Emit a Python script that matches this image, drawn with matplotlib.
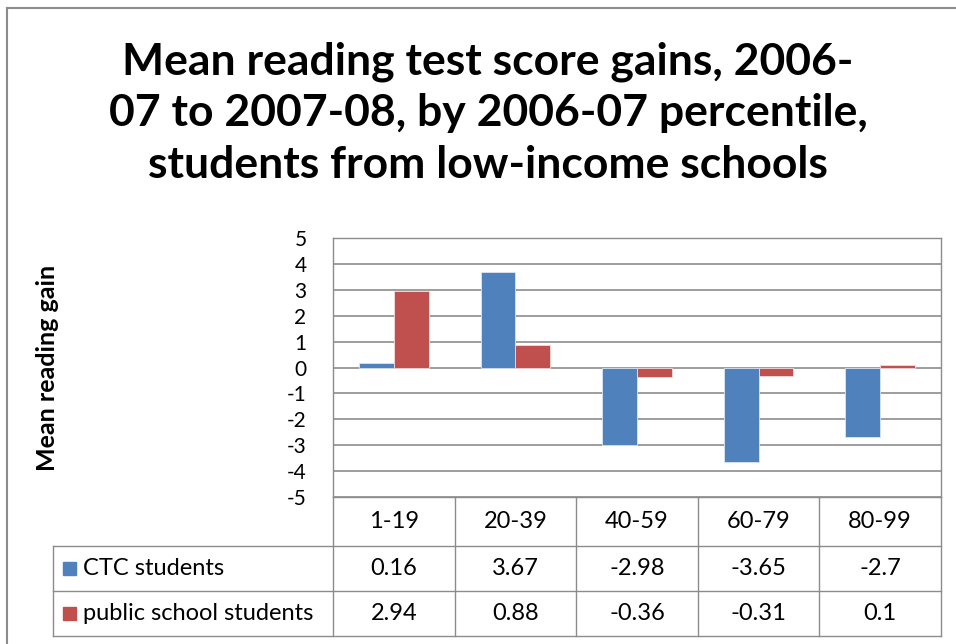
import matplotlib.pyplot as plt
from matplotlib.patches import Rectangle
from matplotlib.lines import Line2D
import numpy as np

# data
categories = ['1-19', '20-39', '40-59', '60-79', '80-99']
ctc_students = [0.16, 3.67, -2.98, -3.65, -2.7]
public_students = [2.94, 0.88, -0.36, -0.31, 0.1]
series_names = ['CTC students', 'public school students']
title = ('Mean reading test score gains, 2006-\n'
         '07 to 2007-08, by 2006-07 percentile,\n'
         'students from low-income schools')

W, H = 956, 644
BLUE = '#4F81BD'
RED = '#C0504D'
GRID = '#8C8C8C'
FONT = 'Lato'

plt.rcParams['font.family'] = [FONT, 'DejaVu Sans']
plt.rcParams['axes.unicode_minus'] = False

fig = plt.figure(figsize=(W / 100, H / 100), dpi=100)

# pixel layout helpers
px_left, px_right = 333, 941
px_top, px_bottom = 238, 497
tbl_left, tbl_rows = 53, [497, 546, 591, 636]


def fx(x):
    return x / W


def fy(y):
    return 1 - y / H


# outer chart frame (only left and top visible)
fig.add_artist(Line2D([fx(7), fx(7)], [fy(8), 0], color='#8C8C8C', lw=1.5))
fig.add_artist(Line2D([fx(7), 1], [fy(8), fy(8)], color='#8C8C8C', lw=1.5))

# title
fig.text(fx(488), fy(113), title, ha='center', va='center', fontsize=32,
         fontweight='bold', linespacing=1.35)

# bar chart
ax = fig.add_axes([fx(px_left), fy(px_bottom), (px_right - px_left) / W,
                   (px_bottom - px_top) / H])
x = np.arange(len(categories))
bw = 1 / 3.5
ax.bar(x - bw / 2, ctc_students, bw, color=BLUE, edgecolor='#DCE6F2',
       linewidth=0.6, zorder=3)
ax.bar(x + bw / 2, public_students, bw, color=RED, edgecolor='#F2DCDB',
       linewidth=0.6, zorder=3)
ax.set_xlim(-0.5, len(categories) - 0.5)
ax.set_ylim(-5, 5)
ax.set_yticks(range(-5, 6))
ax.set_xticks([])
ax.tick_params(axis='y', length=0, labelsize=15, pad=19)
ax.yaxis.grid(True, color=GRID, lw=1.2, zorder=0)
for s in ax.spines.values():
    s.set_color(GRID)
    s.set_linewidth(1.0)
ax.set_ylabel('Mean reading gain', fontsize=18, fontweight='bold', labelpad=0)
ax.yaxis.set_label_coords((59 - px_left) / (px_right - px_left), 0.5)

# data table underneath
tax = fig.add_axes([fx(tbl_left), fy(tbl_rows[-1]), (px_right - tbl_left) / W,
                    (tbl_rows[-1] - tbl_rows[0]) / H])
tax.set_xlim(tbl_left, px_right)
tax.set_ylim(tbl_rows[-1], tbl_rows[0])
tax.axis('off')
colw = (px_right - px_left) / len(categories)
edges = [px_left + i * colw for i in range(len(categories) + 1)]
for e in edges:
    tax.plot([e, e], [tbl_rows[0], tbl_rows[-1]], color=GRID, lw=1.0,
             clip_on=False)
tax.plot([tbl_left, tbl_left], [tbl_rows[1], tbl_rows[-1]], color=GRID,
         lw=1.0, clip_on=False)
for r in tbl_rows[1:]:
    tax.plot([tbl_left, px_right], [r, r], color=GRID, lw=1.0, clip_on=False)

for i, cat in enumerate(categories):
    cx = (edges[i] + edges[i + 1]) / 2
    tax.text(cx, (tbl_rows[0] + tbl_rows[1]) / 2, cat, ha='center',
             va='center', fontsize=17)
    for j, vals in enumerate([ctc_students, public_students]):
        cy = (tbl_rows[j + 1] + tbl_rows[j + 2]) / 2
        tax.text(cx, cy, f'{vals[i]:g}', ha='center', va='center',
                 fontsize=17)

for j, (name, col) in enumerate(zip(series_names, [BLUE, RED])):
    cy = (tbl_rows[j + 1] + tbl_rows[j + 2]) / 2
    tax.add_patch(Rectangle((63, cy - 7), 13, 13, color=col, clip_on=False))
    tax.text(83, cy, name, ha='left', va='center', fontsize=17)

fig.savefig('out.png', dpi=100)
